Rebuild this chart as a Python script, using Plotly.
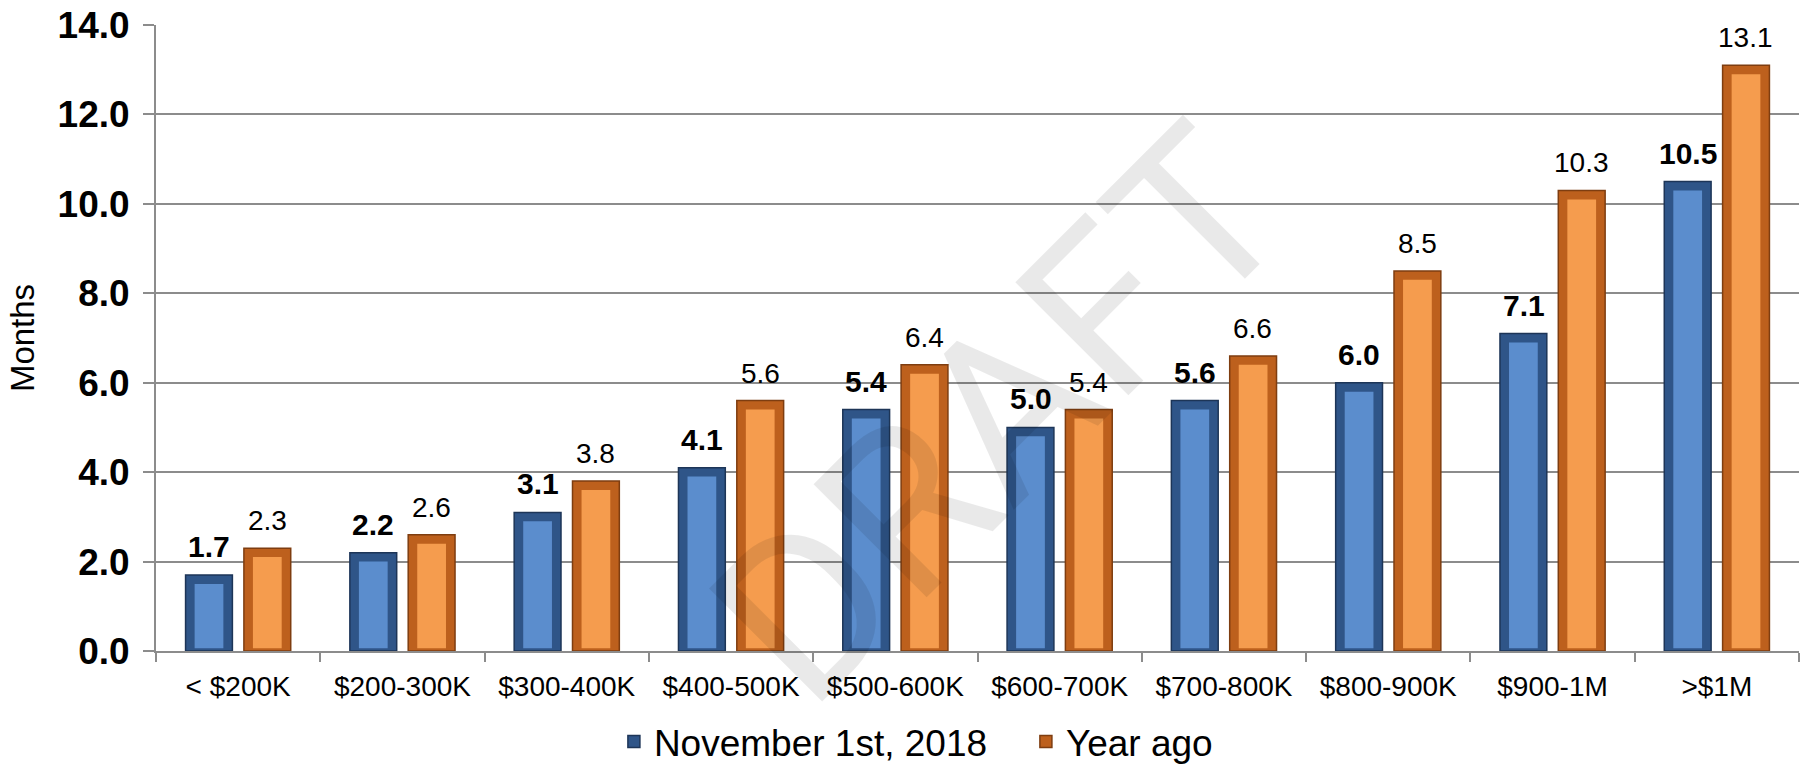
import plotly.graph_objects as go

categories = ["< $200K", "$200-300K", "$300-400K", "$400-500K", "$500-600K",
              "$600-700K", "$700-800K", "$800-900K", "$900-1M", ">$1M"]
nov_2018 = [1.7, 2.2, 3.1, 4.1, 5.4, 5.0, 5.6, 6.0, 7.1, 10.5]
year_ago = [2.3, 2.6, 3.8, 5.6, 6.4, 5.4, 6.6, 8.5, 10.3, 13.1]
series_names = ["November 1st, 2018", "Year ago"]
y_ticks = [0, 2, 4, 6, 8, 10, 12, 14]
y_title = "Months"
watermark = "DRAFT"

FONT = "Liberation Sans, Arial, sans-serif"

# (offset, width) inside a category, in category units
BAR_W = 0.285
OFFS = {"nov": -0.32, "ago": 0.035}
INSET = 0.055      # side bevel
TOP_BEVEL = 0.26   # top bevel height (months)

fig = go.Figure()


def add_series(name, values, key, outer, edge, inner, legend):
    fig.add_trace(go.Bar(
        x=categories, y=values, name=name, offset=OFFS[key], width=BAR_W,
        marker=dict(color=outer, line=dict(color=edge, width=1.5)),
        showlegend=legend, hoverinfo="x+y",
    ))
    fig.add_trace(go.Bar(
        x=categories, y=[v - TOP_BEVEL for v in values], base=0.06,
        offset=OFFS[key] + INSET, width=BAR_W - 2 * INSET,
        marker=dict(color=inner, line=dict(width=0)),
        showlegend=False, hoverinfo="skip",
    ))


add_series(series_names[0], nov_2018, "nov", "#2f5588", "#1d3557", "#5b8dcd", True)
add_series(series_names[1], year_ago, "ago", "#bd601d", "#7e3d10", "#f59c4e", True)

annotations = []
for c, v in zip(categories, nov_2018):
    annotations.append(dict(x=c, y=v, xref="x", yref="y", text=f"<b>{v:.1f}</b>",
                            showarrow=False, xshift=-29, yshift=10, yanchor="bottom",
                            font=dict(family=FONT, size=30, color="#000000")))
for c, v in zip(categories, year_ago):
    annotations.append(dict(x=c, y=v, xref="x", yref="y", text=f"{v:.1f}",
                            showarrow=False, xshift=29, yshift=10, yanchor="bottom",
                            font=dict(family=FONT, size=28, color="#000000")))

annotations.append(dict(x=0.5137, y=0.377, xref="paper", yref="paper", text=watermark,
                        xanchor="center", yanchor="middle",
                        showarrow=False, textangle=-45,
                        font=dict(family="Roboto, Liberation Sans", size=225, weight=400,
                                  color="rgba(0,0,0,0.085)")))

fig.update_layout(
    width=1803, height=764,
    margin=dict(l=156, r=4, t=25, b=113, autoexpand=False),
    paper_bgcolor="white", plot_bgcolor="white",
    barmode="overlay",
    font=dict(family=FONT, color="#000000"),
    showlegend=True,
    legend=dict(orientation="h", x=0.2787, xanchor="left", y=-0.1454, yanchor="middle",
                font=dict(family=FONT, size=37), bgcolor="rgba(0,0,0,0)",
                entrywidth=367, traceorder="normal"),
    annotations=annotations,
)
fig.update_xaxes(
    showgrid=False, showline=True, linecolor="#8c8c8c", linewidth=2,
    ticks="outside", tickson="boundaries", ticklen=9, tickcolor="#8c8c8c", tickwidth=2,
    tickfont=dict(family=FONT, size=28), ticklabelstandoff=9, automargin=False,
)
fig.update_yaxes(
    range=[0, 14], tickvals=y_ticks, ticktext=[f"{t:.1f}" for t in y_ticks],
    showgrid=True, gridcolor="#8c8c8c", gridwidth=2,
    showline=True, linecolor="#8c8c8c", linewidth=2,
    ticks="outside", ticklen=11, tickcolor="#8c8c8c", tickwidth=2,
    tickfont=dict(family=FONT, size=37, weight="bold"), ticklabelstandoff=6,
    zeroline=False, automargin=False,
    title=dict(text=y_title, font=dict(family=FONT, size=33), standoff=13),
)

fig.write_html("out.html")
